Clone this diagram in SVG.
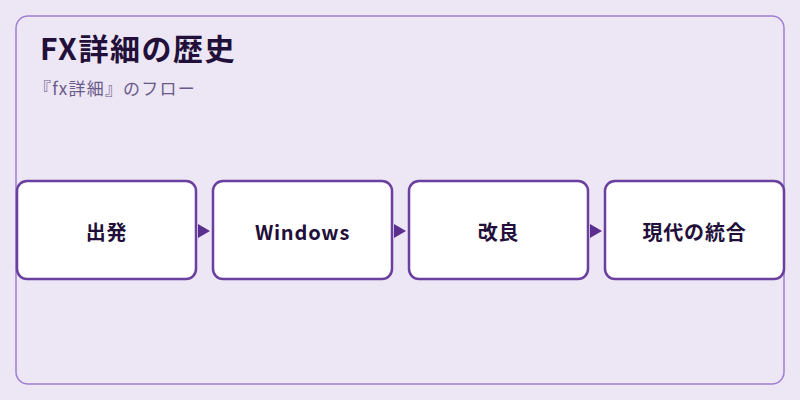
<svg xmlns="http://www.w3.org/2000/svg" width="800" height="400" viewBox="0 0 800 400">
<style>
.n{fill:#fff;stroke:#6a3fa0;stroke-width:2.5}
.t{font-family:"Noto Sans CJK JP","Noto Sans",sans-serif;font-size:20px;font-weight:bold;fill:#22103a;text-anchor:middle;letter-spacing:0.8px}
.a{fill:#5a2f90}
</style>
<rect width="800" height="400" fill="#ede6f5"/>
<rect x="16" y="16" width="768" height="368" rx="12" fill="#ede6f5" stroke="#9c7fd0" stroke-width="1.5"/>
<text x="40" y="60" font-family="Noto Sans CJK JP,Noto Sans,sans-serif" font-size="30" font-weight="bold" fill="#22103a" letter-spacing="1.5">FX詳細の歴史</text>
<text x="34" y="95" font-family="Noto Sans CJK JP,Noto Sans,sans-serif" font-size="17" fill="#6a5a8a" letter-spacing="1.2">『fx詳細』のフロー</text>
<g id="connectors">
<polygon class="a" points="198,224 210,231 198,238"/>
<polygon class="a" points="394,224 406,231 394,238"/>
<polygon class="a" points="590,224 602,231 590,238"/>
</g>
<g id="n1"><rect class="n" x="17" y="181" width="179" height="98" rx="10"/><text class="t" x="106.5" y="240">出発</text></g>
<g id="n2"><rect class="n" x="213" y="181" width="179" height="98" rx="10"/><text class="t" x="302.5" y="240">Windows</text></g>
<g id="n3"><rect class="n" x="409" y="181" width="179" height="98" rx="10"/><text class="t" x="498.5" y="240">改良</text></g>
<g id="n4"><rect class="n" x="605" y="181" width="179" height="98" rx="10"/><text class="t" x="694.5" y="240">現代の統合</text></g>
</svg>
